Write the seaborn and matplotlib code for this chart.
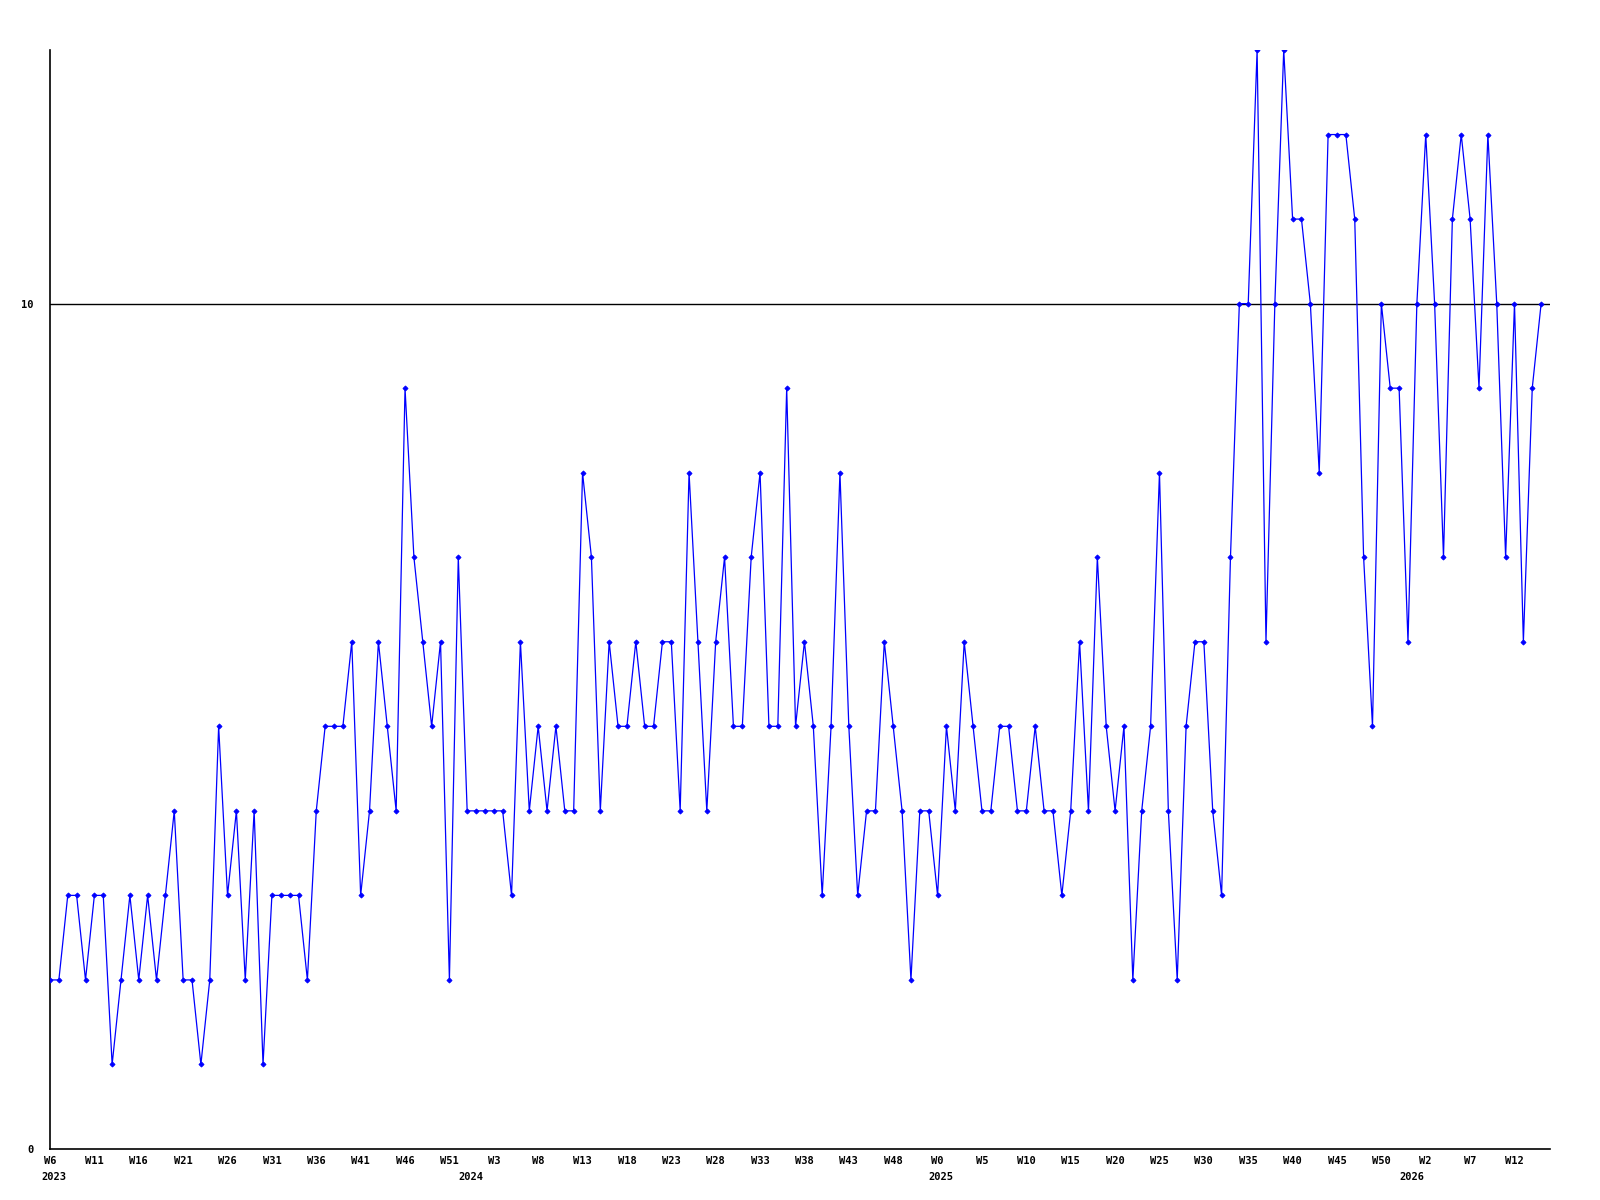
import matplotlib
matplotlib.use("Agg")
import matplotlib.pyplot as plt
import matplotlib.transforms as mtransforms
import seaborn as sns
import pandas as pd

# weekly counts, one value per week starting at W6 2023
valores = [
    2, 2, 3, 3, 2, 3, 3, 1, 2, 3,
    2, 3, 2, 3, 4, 2, 2, 1, 2, 5,
    3, 4, 2, 4, 1, 3, 3, 3, 3, 2,
    4, 5, 5, 5, 6, 3, 4, 6, 5, 4,
    9, 7, 6, 5, 6, 2, 7, 4, 4, 4,
    4, 4, 3, 6, 4, 5, 4, 5, 4, 4,
    8, 7, 4, 6, 5, 5, 6, 5, 5, 6,
    6, 4, 8, 6, 4, 6, 7, 5, 5, 7,
    8, 5, 5, 9, 5, 6, 5, 3, 5, 8,
    5, 3, 4, 4, 6, 5, 4, 2, 4, 4,
    3, 5, 4, 6, 5, 4, 4, 5, 5, 4,
    4, 5, 4, 4, 3, 4, 6, 4, 7, 5,
    4, 5, 2, 4, 5, 8, 4, 2, 5, 6,
    6, 4, 3, 7, 10, 10, 13, 6, 10, 13,
    11, 11, 10, 8, 12, 12, 12, 11, 7, 5,
    10, 9, 9, 6, 10, 12, 10, 7, 11, 12,
    11, 9, 12, 10, 7, 10, 6, 9, 10,
]

rotulos_semana = [
    "W6", "W11", "W16", "W21", "W26", "W31", "W36", "W41", "W46", "W51",
    "W3", "W8", "W13", "W18", "W23", "W28", "W33", "W38", "W43", "W48",
    "W0", "W5", "W10", "W15", "W20", "W25", "W30", "W35", "W40", "W45",
    "W50", "W2", "W7", "W12",
]
anos = ["2023", "2024", "2025", "2026"]
inicio_ano = [0, 47, 100, 153]  # index of the first week of each year

df = pd.DataFrame({"semana": range(len(valores)), "valor": valores})

sns.set_style("white")
plt.rcParams["font.family"] = ["DejaVu Sans Mono", "DejaVu Sans"]
plt.rcParams["text.color"] = "black"
plt.rcParams["xtick.color"] = "black"
plt.rcParams["ytick.color"] = "black"

fig = plt.figure(figsize=(16, 12), dpi=100)
ax = fig.add_axes([50 / 1600, 1 - 1149 / 1200, 1500 / 1600, 1099 / 1200])

# linha de referencia em 10
ax.axhline(10, color="black", lw=1.0, zorder=1)

sns.lineplot(data=df, x="semana", y="valor", ax=ax, color="#0000ff",
             lw=0.9, marker="D", markersize=2.6, markeredgewidth=0.6,
             markeredgecolor="#0000ff", zorder=3)

ax.set_xlim(0, 169)
ax.set_ylim(0, 13)

ax.set_yticks([0, 10])
ax.set_yticklabels(["0", "10"], fontsize=7.5, fontweight="bold", color="black")
ax.set_xticks(range(0, 5 * len(rotulos_semana), 5))
ax.set_xticklabels(rotulos_semana, fontsize=7.5, fontweight="bold", color="black")
ax.tick_params(axis="y", length=0, pad=12)
ax.tick_params(axis="x", length=0, pad=5)

ax.set_xlabel("")
ax.set_ylabel("")
for lado in ["top", "right"]:
    ax.spines[lado].set_visible(False)
for lado in ["left", "bottom"]:
    ax.spines[lado].set_color("black")
    ax.spines[lado].set_linewidth(1.2)

# anos abaixo das semanas
trans = mtransforms.blended_transform_factory(ax.transData, ax.transAxes)
for ano, pos in zip(anos, inicio_ano):
    ax.text(pos + 0.4, -28 / 1099, ano, transform=trans, ha="center", va="center",
            fontsize=7.5, fontweight="bold", color="black")

fig.savefig("out.png", dpi=100)
plt.close(fig)
